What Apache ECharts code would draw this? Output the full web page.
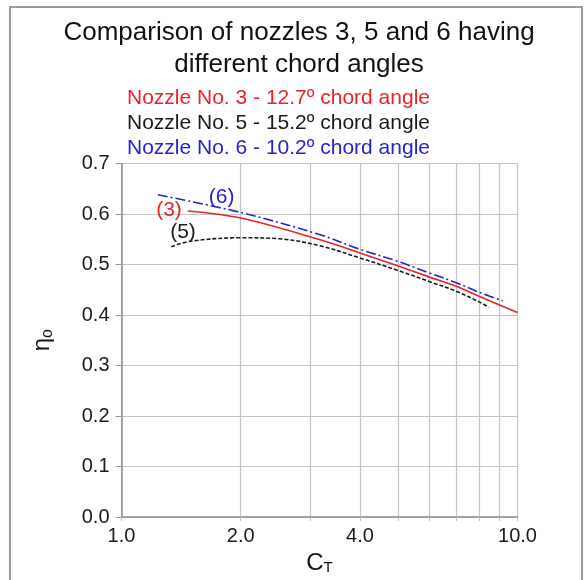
<!DOCTYPE html>
<html>
<head>
<meta charset="utf-8">
<script src="https://cdn.jsdelivr.net/npm/echarts@6/dist/echarts.min.js"></script>
<style>
  html, body { margin: 0; padding: 0; background: #fff; }
  #chart { width: 586px; height: 580px; }
</style>
</head>
<body>
<div id="chart"></div>
<script>
// curves: [C_T, eta_o]
const nozzle3 = [[1.47, 0.606], [2, 0.592], [3.175, 0.549], [4, 0.523], [5, 0.497], [6, 0.475], [7, 0.457], [8, 0.437], [10, 0.405]]
const nozzle5 = [[1.336, 0.535], [1.49, 0.546], [2, 0.553], [2.5, 0.551], [3.175, 0.537], [4, 0.513], [5, 0.488], [6, 0.466], [7, 0.447], [8, 0.426], [8.48, 0.415]]
const nozzle6 = [[1.236, 0.638], [2, 0.603], [3.175, 0.559], [4, 0.530], [5, 0.506], [6, 0.483], [7, 0.464], [8, 0.445], [9.17, 0.428]]

const seriesNames = ['Nozzle No. 3 - 12.7º chord angle', 'Nozzle No. 5 - 15.2º chord angle', 'Nozzle No. 6 - 10.2º chord angle']
const curveTags = ['(3)', '(5)', '(6)']
const tagAt = [[1.318, 0.608], [1.43, 0.564], [1.79, 0.634]]

const xGridValues = [1, 2, 3, 4, 5, 6, 7, 8, 9, 10]
const xLabelValues = [1, 2, 4, 10]

const colorList = ['#e8232b', '#1a1a1a', '#2424c8']
const font = 'Liberation Sans, Arial, Helvetica, sans-serif'

const chartBox = echarts.init(document.getElementById('chart'))

const makeSeries = (i, data, lineType) => ({
  name: seriesNames[i],
  type: 'line',
  data: data,
  smooth: 0.35,
  showSymbol: false,
  symbol: 'none',
  silent: true,
  z: 3 + i,
  lineStyle: { color: colorList[i], width: 1.6, type: lineType },
  itemStyle: { color: colorList[i] },
  markPoint: {
    symbol: 'circle',
    symbolSize: 0,
    silent: true,
    label: {
      show: true,
      position: 'inside',
      formatter: curveTags[i],
      color: colorList[i],
      fontSize: 21,
      fontFamily: font
    },
    data: [{ coord: tagAt[i] }]
  }
})

const option = {
  backgroundColor: '#fff',
  animation: false,
  graphic: [
    {
      type: 'rect',
      shape: { x: 10, y: 7, width: 572, height: 600 },
      style: { fill: 'none', stroke: '#9a9a9a', lineWidth: 2 },
      silent: true
    }
  ],
  title: {
    text: 'Comparison of nozzles 3, 5 and 6 having\ndifferent chord angles',
    left: 294,
    top: 12,
    textAlign: 'center',
    textStyle: {
      fontFamily: font,
      fontWeight: 'normal',
      fontSize: 26,
      lineHeight: 32,
      color: '#111'
    }
  },
  legend: {
    orient: 'vertical',
    left: 117,
    top: 83,
    itemWidth: 0,
    itemHeight: 0,
    itemGap: 4,
    selectedMode: false,
    icon: 'rect',
    data: seriesNames.map((n, i) => ({ name: n, textStyle: { color: colorList[i] } })),
    textStyle: { fontFamily: font, fontSize: 21 }
  },
  grid: { left: 121.5, right: 68.5, top: 163.5, bottom: 60.5, containLabel: false },
  xAxis: {
    type: 'log',
    logBase: 10,
    min: 1,
    max: 10,
    name: '{c|C}{t|T}',
    nameLocation: 'middle',
    nameGap: 34,
    nameTextStyle: {
      rich: {
        c: { fontFamily: font, fontSize: 24, color: '#111', verticalAlign: 'bottom' },
        t: { fontFamily: font, fontSize: 15, color: '#111', padding: [8, 0, 0, 0], verticalAlign: 'bottom' }
      }
    },
    axisLine: { lineStyle: { color: '#8c8c8c', width: 1.5 } },
    axisTick: { show: true, length: 4, customValues: xGridValues, lineStyle: { color: '#bdbdbd' } },
    axisLabel: {
      customValues: xLabelValues,
      formatter: v => Number(v).toFixed(1),
      fontFamily: font,
      fontSize: 20,
      color: '#1a1a1a',
      margin: 9
    },
    splitLine: { show: true, lineStyle: { color: '#c4c4c4', width: 1.2 } },
    minorSplitLine: { show: false }
  },
  yAxis: {
    type: 'value',
    min: 0,
    max: 0.7,
    interval: 0.1,
    name: '{e|η}{o|o}',
    nameLocation: 'middle',
    nameRotate: 90,
    nameGap: 66,
    nameTextStyle: {
      rich: {
        e: { fontFamily: font, fontSize: 24, color: '#111' },
        o: { fontFamily: font, fontSize: 16, color: '#111', padding: [10, 0, 0, 0] }
      }
    },
    axisLine: { show: true, lineStyle: { color: '#8c8c8c', width: 1.5 } },
    axisTick: { show: true, length: 6, lineStyle: { color: '#9a9a9a' } },
    axisLabel: {
      formatter: v => Number(v).toFixed(1),
      fontFamily: font,
      fontSize: 20,
      color: '#1a1a1a',
      margin: 12
    },
    splitLine: { show: true, lineStyle: { color: '#c4c4c4', width: 1.2 } }
  },
  series: [
    makeSeries(0, nozzle3, 'solid'),
    makeSeries(1, nozzle5, [4, 2]),
    makeSeries(2, nozzle6, [10, 3, 2, 3])
  ]
}

chartBox.setOption(option, true)
</script>
</body>
</html>
